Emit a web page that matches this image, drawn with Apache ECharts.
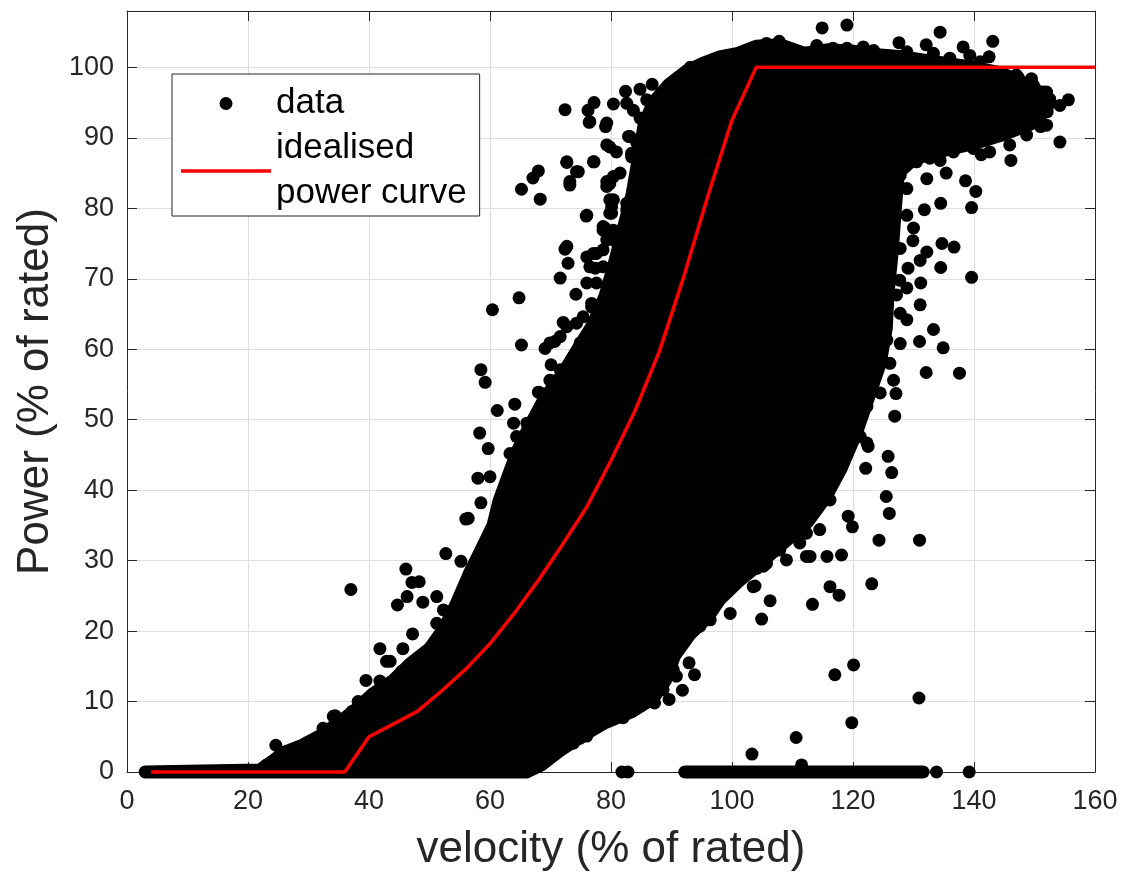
<!DOCTYPE html>
<html>
<head>
<meta charset="utf-8">
<title>Power curve scatter</title>
<script src="https://cdn.jsdelivr.net/npm/echarts@6/dist/echarts.min.js"></script>
<style>
  html, body { margin: 0; padding: 0; background: #fff; }
  #chart { width: 1125px; height: 886px; }
</style>
</head>
<body>
<div id="chart"></div>
<script>
// Axis ranges and ticks
const xTicks = [0, 20, 40, 60, 80, 100, 120, 140, 160];
const yTicks = [0, 10, 20, 30, 40, 50, 60, 70, 80, 90, 100];
const yTop = 108;

// Idealised power curve vertices (velocity %, power %)
const curveVelocity = [4, 36, 40, 44, 48, 52, 56, 60, 64, 68, 72, 76, 80, 84, 88, 92, 96, 100, 104, 160];
const curvePower    = [0, 0, 5, 6.8, 8.6, 11.5, 14.6, 18.2, 22.5, 27.2, 32.3, 37.6, 44.2, 51.3, 59.7, 70.2, 81.7, 92.5, 100, 100];

// Outline of the densely packed core of the measurements (centres of the outermost samples)
const coreOutline = [
  [3, 0], [22, 0.3], [24, 1.5], [26, 2.8], [29, 3.8], [32, 5.2], [35, 7], [38, 9], [40.5, 11],
  [44, 13], [47, 15.5], [50, 17.5], [52.5, 20.5], [54.5, 24], [56.5, 28], [58.5, 31.5],
  [60.5, 35], [61.5, 38.5], [63, 42], [64.5, 45.5], [66.5, 49], [69, 53], [72, 56.5],
  [74.5, 60], [77, 63.5], [79, 67.5], [80.5, 72], [82, 77], [83.5, 82], [84.5, 87],
  [85.5, 92], [87, 95], [89.5, 97.5], [92.5, 99.5], [95, 100.5], [98, 101.5], [101, 102], [104, 103],
  [108, 103.2], [112, 102], [116, 102.5], [120, 102.3], [124, 101.8], [128, 101.5],
  [132, 101], [136, 100.5], [140, 100], [144, 99.3], [147, 98.3], [150, 97], [152.5, 95.5],
  [152, 94], [149.5, 92], [145, 90.5], [140, 89.2], [135, 88.2], [130, 87], [127.5, 85],
  [127, 80], [126.5, 74], [125.8, 68], [125.5, 63], [124.5, 58], [122.5, 53], [120.5, 48],
  [118, 43], [115.5, 39], [112.5, 35.5], [108.5, 32.5], [104.5, 29.5], [101, 27], [98, 24.5],
  [96, 22], [93, 19.5], [90.5, 16.5], [89, 13], [87, 10.5], [83.5, 8.6], [79, 7], [75, 5],
  [71.5, 3], [68.5, 1], [66, 0]
];

// Runs of zero-power samples along the velocity axis [from, to]
const zeroRuns = [[92.2, 131.6]];

// Individual samples outside the dense core
const scatterPoints = [
  // low-velocity side
  [23.1, 1.0], [24.6, 3.8], [26.4, 2.9], [28.0, 3.4], [29.7, 4.1], [32.4, 6.2], [34.1, 7.9], [34.4, 8.0],
  [37.2, 8.6], [38.2, 10.0], [39.5, 13.0], [41.8, 12.9], [43.5, 15.7], [45.4, 14.3], [47.3, 15.2],
  [41.8, 17.5], [42.9, 15.7], [44.7, 23.7], [45.6, 17.5], [46.1, 28.8], [46.3, 24.9], [47.1, 26.9],
  [48.3, 27.0], [48.9, 24.1], [47.2, 19.6], [51.7, 18.3], [51.2, 21.1], [52.3, 23.0], [51.2, 24.9],
  [52.7, 31.0], [55.2, 29.9], [56.0, 35.9], [37.0, 25.9],
  [56.4, 36.0], [58.5, 38.2], [58.0, 41.7], [60.0, 41.9], [59.7, 45.9], [58.3, 48.1], [61.2, 51.3],
  [64.1, 52.2], [64.4, 42.9], [63.3, 45.2], [65.5, 46.2], [64.4, 47.6], [63.9, 49.5], [66.1, 49.5],
  [59.2, 55.3], [58.5, 57.1], [65.2, 60.6], [60.4, 65.6], [64.8, 67.3], [68.0, 53.9], [68.3, 53.8],
  [70.2, 55.5], [69.9, 55.6], [70.1, 57.8], [72.1, 56.8], [71.6, 57.1], [73.2, 56.6], [74.9, 57.5],
  [69.1, 60.1], [70.7, 61.1], [69.9, 60.9], [71.6, 61.8], [74.9, 60.9], [75.7, 59.0], [72.7, 63.2],
  [74.3, 63.7], [75.4, 64.6], [72.1, 63.8], [76.8, 66.0], [76.8, 66.5], [74.2, 67.8], [79.3, 67.9],
  [71.6, 70.1], [76.0, 69.4], [77.6, 69.4], [77.4, 71.5], [76.5, 71.7], [78.7, 71.7], [76.0, 73.1],
  [77.6, 73.6], [77.1, 73.6], [78.7, 74.1], [72.4, 74.2], [72.7, 74.6], [72.9, 72.2], [79.3, 75.5],
  [80.4, 75.5], [79.0, 77.2], [78.7, 76.9], [78.7, 77.4], [80.4, 76.9], [82.6, 76.5], [82.6, 77.4],
  [75.9, 78.9], [76.0, 79.0], [80.1, 80.2], [80.1, 79.3], [79.8, 79.3], [82.6, 79.8], [82.6, 80.7],
  [79.8, 81.2], [80.4, 81.2], [68.3, 81.3], [65.2, 82.7], [67.1, 84.3], [68.0, 85.3], [73.2, 83.3],
  [73.2, 83.8], [74.3, 85.2], [74.6, 85.2], [72.7, 86.5], [72.7, 86.6], [77.2, 86.6], [77.1, 86.6],
  [79.3, 83.8], [79.3, 83.1], [79.8, 83.5], [80.4, 84.5], [81.5, 85.0], [84.8, 85.9], [85.9, 85.0],
  [83.4, 87.3], [83.4, 87.8], [79.8, 88.7], [79.3, 89.0], [80.9, 88.0], [84.2, 89.4], [85.6, 88.5],
  [82.9, 90.2], [83.1, 90.2], [72.4, 94.0], [76.2, 93.9], [77.2, 95.0], [76.4, 92.2], [76.5, 92.3],
  [79.1, 91.6], [79.3, 92.1], [80.4, 94.8], [82.6, 94.9], [83.7, 93.9], [84.8, 92.8], [85.9, 95.4],
  [88.1, 95.4], [82.4, 96.6], [84.8, 96.9], [86.8, 97.6], [89.8, 97.5], [90.3, 97.7], [91.4, 98.7],
  [93.1, 100.0], [95.8, 100.3], [99.1, 100.3],
  // lower edge of the band
  [99.7, 22.5], [104.9, 21.7], [106.3, 24.3], [103.8, 26.4], [103.5, 26.3], [105.2, 29.2],
  [104.1, 28.9], [105.7, 29.6], [98.0, 27.7], [100.8, 27.5], [99.1, 25.9], [96.4, 24.4],
  [95.8, 23.0], [96.4, 21.6], [94.7, 20.7], [92.5, 19.2], [90.3, 18.8], [88.6, 15.9], [90.3, 14.5],
  [90.8, 13.6], [88.6, 11.7], [85.3, 11.7], [80.9, 9.3], [78.7, 9.3], [76.0, 5.1], [73.8, 4.1],
  [71.6, 3.2], [66.6, 2.0], [63.9, 1.7],
  [113.3, 23.8], [116.2, 26.3], [117.7, 25.1], [111.2, 32.5], [112.9, 30.6], [115.7, 30.6],
  [118.1, 30.8], [119.2, 36.3], [107.9, 31.5], [109.0, 30.1], [112.3, 30.6], [110.1, 33.9],
  [112.3, 33.9], [114.5, 34.4], [111.8, 36.3], [113.4, 37.7], [114.5, 38.6], [116.2, 38.6],
  [118.1, 43.3], [120.1, 48.1], [121.2, 47.6], [122.3, 46.7], [122.3, 51.9], [124.5, 53.8],
  [126.7, 55.6], [126.1, 58.0], [125.6, 61.3], [127.8, 60.8], [125.6, 65.1], [127.8, 65.1], [128.9, 64.2],
  [91.9, 19.2], [95.5, 22.3], [90.9, 19.1], [94.2, 20.7], [92.9, 15.5], [93.8, 13.8], [91.8, 11.6],
  [89.6, 10.3], [87.2, 9.8], [83.4, 8.6], [82.0, 7.7], [77.4, 7.7], [74.9, 4.8], [69.4, 2.1],
  [119.9, 34.8], [124.3, 32.9], [131.0, 32.9], [123.1, 26.7], [126.0, 36.7], [125.5, 39.1],
  [122.1, 43.1], [126.4, 42.5], [125.8, 44.8], [122.5, 46.2], [126.9, 50.5], [127.1, 53.7],
  [132.1, 56.7], [137.6, 56.6], [131.0, 61.1], [133.3, 62.8], [134.9, 60.2], [131.1, 66.3],
  [103.3, 2.55], [110.6, 4.9], [119.8, 7.0], [117.0, 13.8], [120.1, 15.2], [130.9, 10.5], [111.5, 1.0],
  // high-velocity side below rated power
  [132.2, 84.2], [135.4, 85.0], [138.6, 83.9], [140.3, 82.4], [139.6, 80.1], [134.5, 80.7], [131.8, 79.8],
  [129.9, 75.4], [134.7, 75.0], [136.7, 74.5], [132.2, 73.8], [134.5, 71.6], [131.1, 72.6], [129.1, 71.5],
  [127.7, 69.8], [131.2, 69.4], [139.6, 70.2], [128.9, 68.7], [127.2, 67.7], [126.1, 71.5],
  [127.8, 74.3], [126.7, 78.1], [130.0, 77.2], [128.9, 79.0], [126.7, 80.9], [128.9, 82.8], [127.8, 84.7],
  [130.5, 86.6], [132.7, 87.1], [136.6, 88.0], [139.9, 88.5], [142.6, 88.0], [145.9, 89.0],
  [148.7, 90.4], [152.0, 91.8],
  [146.1, 86.8], [141.2, 87.6], [154.2, 89.4], [151.0, 91.6], [152.1, 93.7], [154.2, 94.6], [155.6, 95.4],
  [134.4, 86.8],
  // above rated power
  [114.9, 105.6], [119.0, 106.0], [134.4, 105.0], [143.1, 103.7], [127.6, 103.5], [138.2, 102.9],
  [105.7, 103.4], [107.8, 103.7], [114.0, 103.1], [121.7, 102.9], [132.1, 103.2], [142.5, 101.5],
  [149.5, 98.4], [147.3, 98.6], [152.0, 96.5], [96.1, 100.1], [99.4, 100.3], [101.6, 101.4], [103.6, 101.7],
  [100.2, 100.3], [101.9, 101.5], [104.6, 102.7], [109.0, 102.0], [111.2, 101.3], [116.7, 102.7],
  [119.0, 102.7], [123.4, 102.4], [125.6, 101.7], [128.9, 102.2], [133.3, 102.0], [136.0, 101.3],
  [139.3, 101.7], [141.0, 100.8], [147.0, 98.9], [149.8, 97.5], [151.5, 96.5],
  // zero power
  [81.8, 0], [82.8, 0], [133.8, 0], [139.2, 0]
];

const FONT = "'Liberation Sans', Arial, Helvetica, sans-serif";
const INK = '#262626';
const DOT = 13;

const chart = echarts.init(document.getElementById('chart'), null, { renderer: 'canvas' });

function frameAxis(position, withLabels) {
  return {
    type: 'value',
    position: position,
    axisLine: { show: true, onZero: false, lineStyle: { color: INK, width: 1 } },
    axisTick: { show: true, inside: true, length: 10, lineStyle: { color: INK } },
    axisLabel: withLabels
      ? { fontSize: 27, color: INK, fontFamily: FONT }
      : { show: false },
    splitLine: withLabels
      ? { show: true, lineStyle: { color: '#dedede', width: 1 } }
      : { show: false }
  };
}

const xRange = { min: xTicks[0], max: xTicks[xTicks.length - 1], interval: xTicks[1] - xTicks[0] };
const yRange = { min: yTicks[0], max: yTop, interval: yTicks[1] - yTicks[0] };

const xMain = Object.assign(frameAxis('bottom', true), xRange, {
  name: 'velocity (% of rated)', nameLocation: 'middle', nameGap: 56,
  nameTextStyle: { fontSize: 44, color: INK, fontFamily: FONT }
});
xMain.axisLabel.margin = 16;
const xTop = Object.assign(frameAxis('top', false), xRange);

const yMain = Object.assign(frameAxis('left', true), yRange, {
  name: 'Power (% of rated)', nameLocation: 'middle', nameGap: 68,
  nameTextStyle: { fontSize: 44, color: INK, fontFamily: FONT }
});
yMain.axisLabel.margin = 13;
yMain.axisLabel.formatter = v => (yTicks.indexOf(v) >= 0 ? String(v) : '');
const yRight = Object.assign(frameAxis('right', false), yRange);

const option = {
  animation: false,
  backgroundColor: '#fff',
  grid: { left: 127, right: 30, top: 11, bottom: 114, containLabel: false },
  xAxis: [xMain, xTop],
  yAxis: [yMain, yRight],
  legend: {
    orient: 'vertical', left: 172, top: 74,
    data: [
      { name: 'data', icon: 'circle' },
      { name: 'idealised power curve', icon: 'path://M0,0L90,0L90,3.5L0,3.5Z' }
    ],
    formatter: n => (n === 'idealised power curve' ? 'idealised\npower curve' : n),
    itemWidth: 90, itemHeight: 13, itemGap: 0,
    padding: [7, 13, 0, 9],
    borderColor: INK, borderWidth: 1, borderRadius: 0,
    backgroundColor: '#fff',
    selectedMode: false,
    textStyle: { fontSize: 35, lineHeight: 45, color: '#000', fontFamily: FONT }
  },
  series: [
    {
      // dense core of the measurements
      type: 'custom',
      xAxisIndex: 0, yAxisIndex: 0,
      silent: true, clip: false, z: 2,
      data: coreOutline,
      renderItem: (params, api) => {
        if (params.dataIndex !== 0) return null;
        const pts = coreOutline.map(p => api.coord(p));
        return {
          type: 'polygon',
          shape: { points: pts },
          style: { fill: '#000', stroke: '#000', lineWidth: DOT, lineJoin: 'round' }
        };
      }
    },
    {
      // continuous runs of zero-power samples
      type: 'custom',
      xAxisIndex: 0, yAxisIndex: 0,
      silent: true, clip: false, z: 2,
      data: zeroRuns,
      renderItem: (params, api) => {
        const run = zeroRuns[params.dataIndex];
        const a = api.coord([run[0], 0]);
        const b = api.coord([run[1], 0]);
        return {
          type: 'line',
          shape: { x1: a[0], y1: a[1], x2: b[0], y2: b[1] },
          style: { stroke: '#000', lineWidth: DOT, lineCap: 'round' }
        };
      }
    },
    {
      name: 'data',
      type: 'scatter',
      xAxisIndex: 0, yAxisIndex: 0,
      symbol: 'circle', symbolSize: DOT,
      itemStyle: { color: '#000', opacity: 1 },
      clip: false, silent: true, z: 3,
      data: scatterPoints
    },
    {
      name: 'idealised power curve',
      type: 'line',
      xAxisIndex: 0, yAxisIndex: 0,
      symbol: 'none', showSymbol: false,
      lineStyle: { color: '#ff0000', width: 3.5 },
      itemStyle: { color: '#ff0000' },
      clip: false, silent: true, z: 5,
      data: curveVelocity.map((v, i) => [v, curvePower[i]])
    }
  ]
};

chart.setOption(option);
</script>
</body>
</html>
